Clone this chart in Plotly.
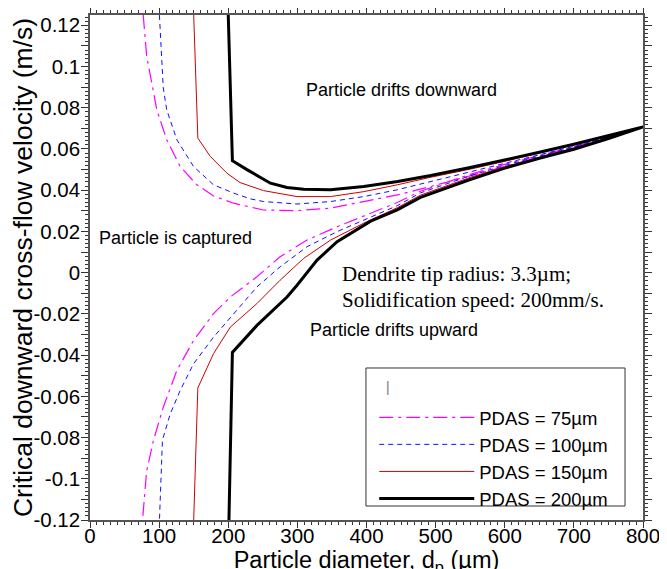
import plotly.graph_objects as go

# ---------------- data ----------------
# PDAS = 200 um
d200_up = [200, 206, 227, 261, 285, 309, 348, 396, 445, 493, 550, 600, 650, 700, 750, 800]
v200_up = [0.125, 0.0543, 0.0500, 0.0434, 0.0413, 0.0405, 0.0402, 0.0418, 0.0442, 0.0471, 0.0510, 0.0546, 0.0584, 0.0623, 0.0664, 0.0707]
d200_lo = [201, 206, 241.5, 285, 299.5, 328.5, 357.5, 406, 444.5, 478, 550, 600, 650, 700, 750, 800]
v200_lo = [-0.12, -0.0387, -0.0256, -0.0118, -0.0061, 0.0061, 0.0150, 0.0250, 0.0305, 0.0365, 0.0452, 0.0507, 0.0555, 0.0599, 0.0650, 0.0707]

# PDAS = 150 um
d150_up = [150, 156, 174, 198, 217, 251, 299.5, 348, 396, 444.5, 493, 550, 600, 650, 700, 750, 800]
v150_up = [0.125, 0.0653, 0.0564, 0.0483, 0.0437, 0.0398, 0.0369, 0.0369, 0.0393, 0.0426, 0.0463, 0.0502, 0.0540, 0.0580, 0.0620, 0.0662, 0.0707]
d150_lo = [150, 156, 178.7, 203, 241.5, 275, 309, 348, 396, 444.5, 478, 550, 600, 650, 700, 750, 800]
v150_lo = [-0.12, -0.0559, -0.0393, -0.0264, -0.0150, -0.0037, 0.0069, 0.0158, 0.0240, 0.0315, 0.0376, 0.0462, 0.0514, 0.0560, 0.0604, 0.0653, 0.0707]

# PDAS = 100 um
d100_up = [100.4, 106, 111, 125.6, 149.8, 178.7, 207.7, 232, 251, 299.5, 348, 396, 444.5, 493, 550, 600, 650, 700, 750, 800]
v100_up = [0.125, 0.0897, 0.0790, 0.0645, 0.0515, 0.0426, 0.0386, 0.0358, 0.0345, 0.0333, 0.0345, 0.0369, 0.0402, 0.0442, 0.0487, 0.0527, 0.0570, 0.0613, 0.0658, 0.0707]
d100_lo = [100.5, 104.8, 116, 130.4, 149.8, 178.7, 207.7, 241.5, 275, 314, 357.5, 406, 444.5, 478, 550, 600, 650, 700, 750, 800]
v100_lo = [-0.12, -0.0812, -0.0686, -0.0572, -0.0442, -0.0313, -0.0199, -0.0069, 0.0028, 0.0126, 0.0199, 0.0270, 0.0325, 0.0387, 0.0470, 0.0520, 0.0565, 0.0608, 0.0656, 0.0707]

# PDAS = 75 um
d75_up = [77, 82, 89.4, 96.6, 111, 130.4, 154.6, 178.7, 207.7, 232, 251, 299.5, 348, 396, 444.5, 493, 550, 600, 650, 700, 750, 800]
v75_up = [0.125, 0.105, 0.092, 0.079, 0.0645, 0.0515, 0.0426, 0.0372, 0.0337, 0.0320, 0.0304, 0.0301, 0.0313, 0.0345, 0.0377, 0.0418, 0.0470, 0.0515, 0.0560, 0.0606, 0.0655, 0.0707]
d75_lo = [76, 82, 91.7, 106, 125.6, 149.8, 178.7, 203, 241.5, 275, 314, 357.5, 406, 444.5, 478, 550, 600, 650, 700, 750, 800]
v75_lo = [-0.12, -0.0961, -0.0815, -0.0653, -0.0475, -0.0329, -0.0199, -0.0118, -0.0020, 0.0077, 0.0158, 0.0223, 0.0288, 0.0340, 0.0395, 0.0477, 0.0525, 0.0569, 0.0611, 0.0658, 0.0707]

series_names = ["PDAS = 75µm", "PDAS = 100µm", "PDAS = 150µm", "PDAS = 200µm"]

x_tickvals = [0, 100, 200, 300, 400, 500, 600, 700, 800]
y_tickvals = [round(-0.12 + 0.01 * i, 2) for i in range(25)]
y_ticktext = ["-0.12", " ", "-0.1", " ", "-0.08", " ", "-0.06", " ", "-0.04", " ", "-0.02", " ", "0",
              " ", "0.02", " ", "0.04", " ", "0.06", " ", "0.08", " ", "0.1", " ", "0.12"]

# ---------------- figure ----------------
def path(d_up, v_up, d_lo, v_lo):
    return d_up + d_lo[::-1], v_up + v_lo[::-1]

styles = [
    dict(color="#FF00FF", width=1.2, dash="14px,5px,3px,5px"),
    dict(color="#1010FF", width=1, dash="5px,4px"),
    dict(color="#D00000", width=1),
    dict(color="#000000", width=3),
]
data = [(d75_up, v75_up, d75_lo, v75_lo), (d100_up, v100_up, d100_lo, v100_lo),
        (d150_up, v150_up, d150_lo, v150_lo), (d200_up, v200_up, d200_lo, v200_lo)]

fig = go.Figure()
for name, st, dd in zip(series_names, styles, data):
    x, y = path(*dd)
    fig.add_trace(go.Scatter(x=x, y=y, mode="lines", name=name, line=st))

font_sans = "Arial, 'Liberation Sans', sans-serif"
font_serif = "'Times New Roman', 'Liberation Serif', serif"

fig.update_layout(
    width=667, height=569,
    margin=dict(l=82, r=32, t=7, b=57),
    paper_bgcolor="white", plot_bgcolor="white",
    font=dict(family=font_sans, color="black", size=19),
    showlegend=True,
    legend=dict(x=0.514, y=0.240, xanchor="left", yanchor="top",
                bgcolor="rgba(0,0,0,0)", borderwidth=0,
                font=dict(family=font_sans, size=18.5, color="black"),
                itemwidth=95, tracegroupgap=0),
    xaxis=dict(range=[0, 800], tickmode="array", tickvals=x_tickvals, automargin=False,
               ticks="outside", ticklen=6, tickwidth=1, tickcolor="#333",
               ticklabelstandoff=-9,
               showline=True, linecolor="#555", linewidth=1.5, mirror="ticks",
               showgrid=False, zeroline=False,
               tickfont=dict(size=20.5),
               minor=dict(tickmode="linear", tick0=0, dtick=10, ticklen=3, ticks="outside", tickcolor="#333"),
               title=dict(text="Particle diameter, d<sub>p</sub> (µm)", font=dict(size=23.5), standoff=0)),
    yaxis=dict(range=[-0.12, 0.125], tickmode="array", tickvals=y_tickvals, ticktext=y_ticktext, automargin=False,
               ticks="outside", ticklen=7, tickwidth=1, tickcolor="#333",
               ticklabelstandoff=-3,
               showline=True, linecolor="#555", linewidth=1.5, mirror="ticks",
               showgrid=False, zeroline=False,
               tickfont=dict(size=20.5),
               minor=dict(tickmode="linear", tick0=0, dtick=0.002, ticklen=3, ticks="outside", tickcolor="#333"),
               title=dict(text="Critical downward cross-flow velocity (m/s)", font=dict(size=26.5), standoff=0)),
)

# legend box
fig.add_shape(type="rect", xref="paper", yref="paper",
              x0=0.499, x1=0.9675, y0=0.0277, y1=0.301,
              line=dict(color="#333", width=1), fillcolor="white", layer="below")

ann = [
    dict(x=451, y=0.0885, text="Particle drifts downward", xanchor="center", font=dict(family=font_sans, size=18)),
    dict(x=123, y=0.0168, text="Particle is captured", xanchor="center", font=dict(family=font_sans, size=18)),
    dict(x=362, y=-0.0007, text="Dendrite tip radius: 3.3µm;", xanchor="left", font=dict(family=font_serif, size=21)),
    dict(x=362, y=-0.0133, text="Solidification speed: 200mm/s.", xanchor="left", font=dict(family=font_serif, size=21)),
    dict(x=315.5, y=-0.0278, text="Particle drifts upward", xanchor="left", font=dict(family=font_sans, size=18)),
    dict(x=431, y=-0.0555, text="|", xanchor="center", font=dict(family=font_sans, size=14, color="#777")),
]
for a in ann:
    fig.add_annotation(xref="x", yref="y", showarrow=False, yanchor="middle", **a)

fig.write_html("out.html")
